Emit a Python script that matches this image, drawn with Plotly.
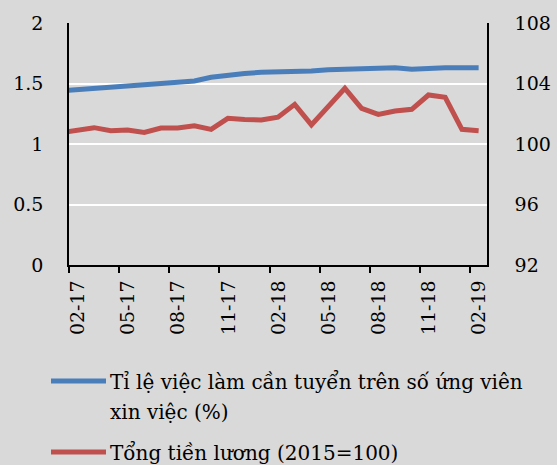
import plotly.graph_objects as go

# ---- data ----
months = ["01-17", "02-17", "03-17", "04-17", "05-17", "06-17", "07-17", "08-17", "09-17",
          "10-17", "11-17", "12-17", "01-18", "02-18", "03-18", "04-18", "05-18", "06-18",
          "07-18", "08-18", "09-18", "10-18", "11-18", "12-18", "01-19", "02-19"]
job_ratio = [1.440, 1.452, 1.463, 1.471, 1.481, 1.490, 1.500, 1.510, 1.521, 1.552, 1.570,
             1.583, 1.593, 1.593, 1.593, 1.603, 1.614, 1.618, 1.624, 1.631, 1.631, 1.617,
             1.629, 1.631, 1.631, 1.631]
wages = [100.75, 100.89, 101.08, 100.88, 100.93, 100.77, 101.06, 101.06, 101.21, 100.97,
         101.70, 101.62, 101.59, 101.77, 102.62, 101.26, 102.45, 103.68, 102.36, 101.96,
         102.18, 102.29, 103.24, 103.09, 100.97, 100.88]
first_shown = "02-17"
tick_labels = months[months.index(first_shown)::3]
name_ratio = "Tỉ lệ việc làm cần tuyển trên số ứng viên xin việc (%)"
name_wage = "Tổng tiền lương (2015=100)"
legend_line1 = "Tỉ lệ việc làm cần tuyển trên số ứng viên"
legend_line2 = "xin việc (%)"

# ---- styling ----
W, H = 557, 465
L, R, T, B = 69, 70, 23, 200
BG = "#d9d9d9"
BLUE = "#4a7ebb"
RED = "#c0504d"
FONT = "DejaVu Serif"
FS = 19
LFS = 20

start = months.index(first_shown)
pos = [i - start for i in range(len(months))]
n_shown = len(months) - start

fig = go.Figure()
fig.add_trace(go.Scatter(x=pos, y=job_ratio, mode="lines", name=name_ratio,
                         line=dict(color=BLUE, width=5), showlegend=False, yaxis="y"))
fig.add_trace(go.Scatter(x=pos, y=wages, mode="lines", name=name_wage,
                         line=dict(color=RED, width=5), showlegend=False, yaxis="y2"))

pw = W - L - R
ph = H - T - B


def px2x(px):
    return (px - L) / pw


def py2y(py):
    return (H - B - py) / ph


tick_pos = [k - 0.5 for k in range(0, n_shown, 3)]

fig.update_layout(
    width=W, height=H,
    margin=dict(l=L, r=R, t=T, b=B, autoexpand=False),
    paper_bgcolor=BG, plot_bgcolor=BG,
    font=dict(family=FONT, size=FS, color="black"),
    xaxis=dict(range=[-0.5, n_shown - 0.5], tickmode="array", tickvals=tick_pos,
               ticktext=tick_labels, tickangle=-90, ticks="outside", ticklen=6,
               tickwidth=1.5, tickcolor="black", showline=True, linecolor="black",
               linewidth=1.5, showgrid=False, zeroline=False, ticklabelshift=9,
               tickfont=dict(family=FONT, size=FS, color="black")),
    yaxis=dict(range=[0, 2], tickmode="array", tickvals=[0, 0.5, 1, 1.5, 2],
               ticktext=["0", "0.5", "1", "1.5", "2"], showgrid=True, gridcolor="white",
               gridwidth=2, showline=True, linecolor="black", linewidth=1.5,
               zeroline=False, ticks="", ticklabelstandoff=20,
               tickfont=dict(family=FONT, size=FS, color="black")),
    yaxis2=dict(range=[92, 108], tickmode="array", tickvals=[92, 96, 100, 104, 108],
                overlaying="y", side="right", showgrid=False, showline=True,
                linecolor="black", linewidth=1.5, zeroline=False, ticks="",
                ticklabelstandoff=22,
                tickfont=dict(family=FONT, size=FS, color="black")),
    showlegend=False,
)

# custom legend (long line samples like the reference)
fig.add_shape(type="line", xref="paper", yref="paper", x0=px2x(51), x1=px2x(106),
              y0=py2y(381), y1=py2y(381), line=dict(color=BLUE, width=5))
fig.add_shape(type="line", xref="paper", yref="paper", x0=px2x(51), x1=px2x(106),
              y0=py2y(452), y1=py2y(452), line=dict(color=RED, width=5))
fig.add_annotation(x=px2x(108), y=py2y(382), xref="paper", yref="paper", text=legend_line1,
                   showarrow=False, xanchor="left", yanchor="middle",
                   font=dict(family=FONT, size=LFS, color="black"))
fig.add_annotation(x=px2x(108), y=py2y(412), xref="paper", yref="paper", text=legend_line2,
                   showarrow=False, xanchor="left", yanchor="middle",
                   font=dict(family=FONT, size=LFS, color="black"))
fig.add_annotation(x=px2x(108), y=py2y(453), xref="paper", yref="paper", text=name_wage,
                   showarrow=False, xanchor="left", yanchor="middle",
                   font=dict(family=FONT, size=LFS, color="black"))

fig.write_html("out.html", config={"displayModeBar": False},
               post_script="document.body.style.margin='0';document.body.style.background='" + BG + "';")
